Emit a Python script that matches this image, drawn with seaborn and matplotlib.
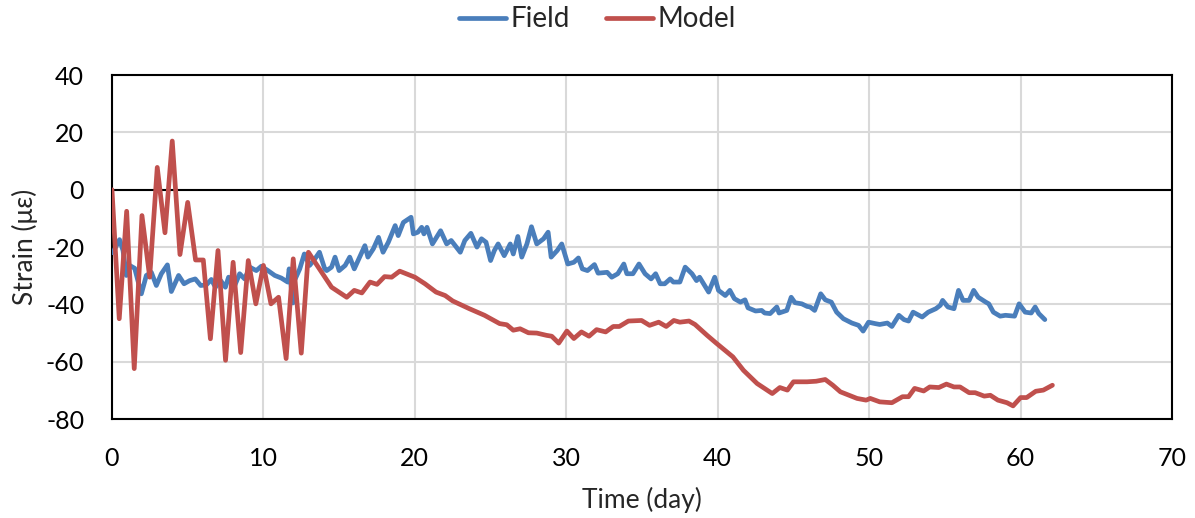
import numpy as np
import pandas as pd
import matplotlib
matplotlib.use("Agg")
import matplotlib.pyplot as plt
import seaborn as sns

# Field measurements (day, strain in microstrain)
field_day = [0.0, 0.07, 0.5, 0.73, 0.95, 1.17, 1.5, 1.94, 2.27, 2.6, 2.93, 3.26, 3.66, 3.92,
             4.4, 4.76, 5.13, 5.5, 5.86, 6.23, 6.56, 6.83, 7.18, 7.49, 7.7, 8.06, 8.43, 8.76,
             9.1, 9.53, 9.86, 10.3, 10.75, 11.18, 11.6, 11.7, 11.95, 12.05, 12.4, 12.7, 13.05,
             13.4, 13.7, 14.05, 14.18, 14.5, 14.73, 15.0, 15.4, 15.7, 16.0, 16.4, 16.7, 16.9,
             17.26, 17.6, 17.9, 18.25, 18.7, 18.9, 19.24, 19.75, 19.9, 20.2, 20.45, 20.6, 20.8,
             21.16, 21.7, 22.1, 22.4, 23.0, 23.3, 23.7, 24.1, 24.4, 24.7, 25.0, 25.25, 25.5,
             25.9, 26.3, 26.5, 26.8, 27.06, 27.4, 27.7, 28.05, 28.5, 28.8, 29.0, 29.4, 29.7,
             30.1, 30.5, 30.8, 31.06, 31.4, 31.86, 32.1, 32.7, 33.0, 33.4, 33.8, 34.0, 34.4,
             34.8, 35.2, 35.6, 35.9, 36.2, 36.5, 36.86, 37.07, 37.5, 37.85, 38.3, 38.6, 38.8,
             39.4, 39.8, 40.05, 40.5, 40.8, 41.1, 41.5, 41.8, 42.0, 42.5, 42.9, 43.1, 43.46,
             43.9, 44.05, 44.56, 44.85, 45.1, 45.55, 45.9, 46.1, 46.4, 46.8, 47.1, 47.5, 47.85,
             48.3, 48.86, 49.3, 49.6, 49.96, 50.4, 50.7, 51.2, 51.5, 51.96, 52.3, 52.6, 52.9,
             53.5, 53.9, 54.4, 54.7, 54.85, 55.2, 55.6, 55.9, 56.2, 56.6, 56.9, 57.2, 57.7,
             57.9, 58.2, 58.65, 59.0, 59.6, 59.9, 60.3, 60.7, 60.96, 61.2, 61.6]
field_strain = [-22.0, -21.8, -17.4, -21.2, -29.9, -26.4, -27.4, -36.3, -29.9, -28.8, -33.4,
                -29.3, -26.2, -35.5, -29.9, -32.8, -31.7, -31.1, -33.4, -33.2, -31.3, -34.0,
                -31.7, -34.0, -30.5, -34.0, -29.3, -31.1, -27.0, -28.2, -26.7, -28.2, -29.9,
                -30.8, -32.2, -27.6, -39.5, -31.7, -27.6, -22.4, -26.4, -24.1, -21.8, -27.6,
                -28.2, -27.0, -23.5, -28.2, -26.4, -23.5, -27.6, -23.0, -19.5, -23.5, -20.6,
                -16.6, -21.8, -18.3, -12.5, -16.0, -11.4, -9.6, -15.4, -14.8, -13.1, -15.4,
                -13.1, -18.9, -14.3, -18.9, -17.7, -21.8, -17.7, -15.2, -20.0, -17.1, -18.3,
                -24.7, -21.2, -18.9, -23.0, -18.9, -22.4, -16.3, -23.5, -18.9, -12.9, -18.9,
                -17.1, -14.8, -23.5, -21.2, -18.9, -25.9, -25.3, -23.8, -27.6, -28.2, -26.1,
                -29.1, -28.8, -30.5, -29.3, -25.9, -29.3, -29.3, -25.9, -29.3, -31.1, -29.3,
                -32.8, -32.8, -31.1, -32.2, -32.2, -27.0, -29.3, -31.7, -30.5, -35.7, -30.5,
                -35.1, -36.9, -35.1, -38.0, -39.2, -38.4, -41.2, -42.3, -42.1, -43.0, -43.2,
                -40.9, -43.0, -42.1, -37.5, -39.4, -39.8, -40.7, -40.9, -42.1, -36.3, -38.4,
                -39.2, -42.7, -45.0, -46.5, -47.3, -49.3, -46.2, -46.7, -47.0, -46.5, -47.7,
                -43.8, -45.3, -45.8, -42.7, -44.4, -42.7, -41.5, -40.3, -38.6, -40.9, -41.5,
                -35.1, -38.6, -38.6, -35.1, -37.5, -39.2, -39.8, -42.7, -44.1, -43.8, -44.1,
                -39.8, -42.7, -43.0, -40.9, -43.2, -45.3]

# Model prediction (day, strain in microstrain)
model_day = [0.0, 0.48, 0.97, 1.47, 1.98, 2.49, 2.99, 3.5, 3.98, 4.49, 5.0, 5.52, 6.03, 6.5,
             7.0, 7.5, 8.0, 8.5, 9.0, 9.5, 10.0, 10.5, 11.0, 11.5, 11.97, 12.5, 12.97, 14.5,
             15.5, 16.0, 16.5, 17.04, 17.5, 18.0, 18.47, 19.0, 20.0, 20.67, 21.4, 22.0, 22.5,
             23.6, 24.6, 25.6, 26.07, 26.5, 26.95, 27.5, 28.05, 28.7, 29.04, 29.5, 30.04, 30.5,
             31.0, 31.5, 32.0, 32.6, 33.1, 33.5, 34.1, 34.97, 35.5, 36.1, 36.6, 37.1, 37.5,
             38.1, 38.5, 39.3, 39.9, 41.0, 41.7, 42.6, 43.6, 44.1, 44.6, 45.0, 45.9, 46.5,
             47.1, 47.6, 48.1, 49.2, 49.8, 50.07, 50.7, 51.5, 52.2, 52.6, 53.0, 53.6, 54.0,
             54.6, 55.1, 55.6, 56.0, 56.6, 57.0, 57.6, 58.0, 58.5, 59.1, 59.5, 60.0, 60.4,
             61.0, 61.5, 62.1]
model_strain = [0.0, -45.0, -7.5, -62.4, -9.0, -30.5, 7.8, -15.0, 17.0, -22.6, -4.4, -24.5,
                -24.5, -52.0, -21.2, -59.5, -25.3, -56.8, -24.7, -39.8, -26.4, -39.8, -37.5,
                -58.9, -24.1, -57.0, -21.8, -34.0, -37.5, -35.1, -36.0, -32.2, -33.0, -30.3,
                -30.5, -28.4, -30.5, -32.8, -35.7, -36.9, -38.8, -41.5, -43.8, -46.7, -47.1,
                -49.0, -48.5, -49.9, -50.0, -50.8, -51.1, -53.5, -49.3, -51.9, -49.6, -51.1,
                -48.8, -49.6, -47.7, -47.7, -45.8, -45.6, -47.3, -46.2, -47.7, -45.6, -46.2,
                -45.8, -47.0, -50.8, -53.5, -58.3, -63.0, -67.6, -71.1, -69.0, -69.9, -67.0,
                -67.0, -66.8, -66.2, -68.2, -70.5, -72.8, -73.4, -72.8, -74.0, -74.3, -72.2,
                -72.2, -69.3, -70.2, -68.8, -69.0, -67.8, -68.8, -68.8, -70.8, -70.8, -72.0,
                -71.7, -73.4, -74.3, -75.4, -72.5, -72.5, -70.3, -69.9, -68.2]

series_names = ["Field", "Model"]
x_ticks = [0, 10, 20, 30, 40, 50, 60, 70]
y_ticks = [40, 20, 0, -20, -40, -60, -80]

df = pd.concat([
    pd.DataFrame({"day": field_day, "strain": field_strain, "series": series_names[0]}),
    pd.DataFrame({"day": model_day, "strain": model_strain, "series": series_names[1]}),
], ignore_index=True)

sns.set_theme(style="white")
plt.rcParams["font.family"] = ["Lato", "DejaVu Sans"]
plt.rcParams["axes.unicode_minus"] = False

fig = plt.figure(figsize=(11.95, 5.18), dpi=100)
ax = fig.add_axes([0.0937, 0.191, 0.8871, 0.664])

ax.grid(True, color="#d9d9d9", linewidth=1.5)
ax.set_axisbelow(True)
ax.axhline(0, color="black", linewidth=1.5, zorder=2)

sns.lineplot(data=df, x="day", y="strain", hue="series", sort=False, estimator=None,
             palette={"Field": "#4a7ebb", "Model": "#c0504d"}, linewidth=3.4,
             ax=ax, legend=True, zorder=3)

ax.set_xlim(0, 70)
ax.set_ylim(-80, 40)
ax.set_xticks(x_ticks)
ax.set_yticks(y_ticks)
ax.tick_params(axis="both", length=0, labelsize=18, colors="black")
ax.tick_params(axis="x", pad=20)
ax.tick_params(axis="y", pad=20)
for s in ax.spines.values():
    s.set_color("black")
    s.set_linewidth(1.5)

ax.set_xlabel("Time (day)", fontsize=19, labelpad=12)
ax.set_ylabel("Strain (με)", fontsize=19, labelpad=6)

handles, labels = ax.get_legend_handles_labels()
ax.get_legend().remove()
fig.legend(handles, labels, loc="upper center", bbox_to_anchor=(0.5, 1.036), ncol=2,
           frameon=False, fontsize=20, handlelength=1.7, handletextpad=0.15,
           columnspacing=1.3)

fig.savefig("out.png", dpi=100)
